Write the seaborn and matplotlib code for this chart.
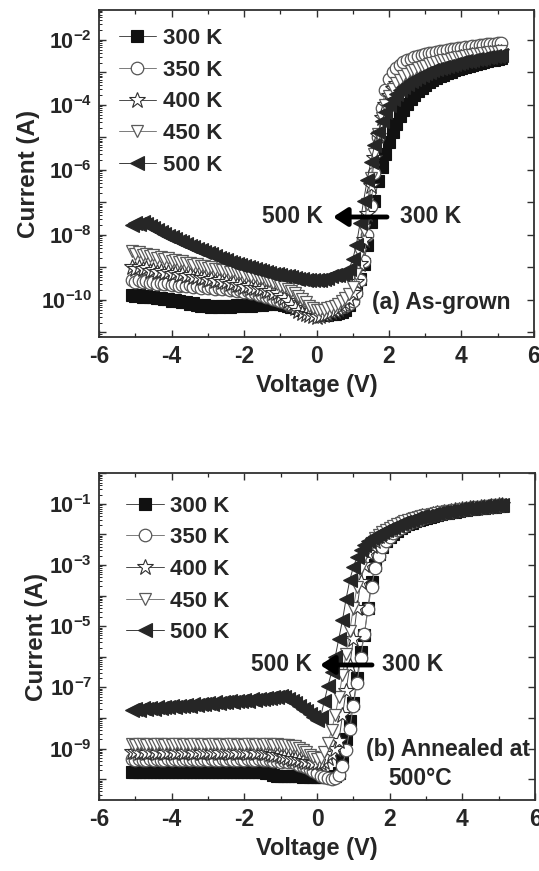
import numpy as np
import matplotlib
matplotlib.use("Agg")
import matplotlib.pyplot as plt
import seaborn as sns
from matplotlib.ticker import LogLocator, FuncFormatter, MultipleLocator, NullFormatter

# ---------------- data ----------------
temps = ["300 K", "350 K", "400 K", "450 K", "500 K"]

voltage = [-5.1, -5.0, -4.9, -4.8, -4.7, -4.6, -4.5, -4.4, -4.3, -4.2,
           -4.1, -4.0, -3.9, -3.8, -3.7, -3.6, -3.5, -3.4, -3.3, -3.2,
           -3.1, -3.0, -2.9, -2.8, -2.7, -2.6, -2.5, -2.4, -2.3, -2.2,
           -2.1, -2.0, -1.9, -1.8, -1.7, -1.6, -1.5, -1.4, -1.3, -1.2,
           -1.1, -1.0, -0.9, -0.8, -0.7, -0.6, -0.5, -0.4, -0.3, -0.2,
           -0.1, 0.0, 0.1, 0.2, 0.3, 0.4, 0.5, 0.6, 0.7, 0.8,
           0.9, 1.0, 1.1, 1.2, 1.3, 1.4, 1.5, 1.6, 1.7, 1.8,
           1.9, 2.0, 2.1, 2.2, 2.3, 2.4, 2.5, 2.6, 2.7, 2.8,
           2.9, 3.0, 3.1, 3.2, 3.3, 3.4, 3.5, 3.6, 3.7, 3.8,
           3.9, 4.0, 4.1, 4.2, 4.3, 4.4, 4.5, 4.6, 4.7, 4.8,
           4.9, 5.0, 5.1]

# (a) As-grown : log10(current / A)
a_300 = [-9.85, -9.88, -9.84, -9.90, -9.87, -9.92, -9.90, -9.95, -9.93, -9.98,
         -9.96, -10.02, -10.00, -10.05, -10.08, -10.06, -10.12, -10.10, -10.15, -10.18,
         -10.16, -10.20, -10.22, -10.19, -10.23, -10.20, -10.18, -10.22, -10.19, -10.17,
         -10.20, -10.16, -10.14, -10.18, -10.15, -10.12, -10.16, -10.13, -10.10, -10.14,
         -10.10, -10.12, -10.15, -10.18, -10.22, -10.20, -10.25, -10.30, -10.33, -10.36,
         -10.40, -10.42, -10.45, -10.44, -10.47, -10.45, -10.43, -10.40, -10.36, -10.30,
         -10.15, -9.95, -9.70, -9.35, -8.90, -8.30, -7.60, -6.95, -6.35, -5.90,
         -5.50, -5.15, -4.85, -4.58, -4.35, -4.15, -3.98, -3.83, -3.70, -3.58,
         -3.48, -3.39, -3.31, -3.24, -3.18, -3.12, -3.07, -3.02, -2.98, -2.94,
         -2.90, -2.86, -2.83, -2.80, -2.77, -2.74, -2.71, -2.68, -2.66, -2.63,
         -2.61, -2.58, -2.56]
a_350 = [-9.40, -9.45, -9.38, -9.46, -9.42, -9.48, -9.44, -9.50, -9.47, -9.52,
         -9.49, -9.53, -9.50, -9.56, -9.53, -9.58, -9.55, -9.60, -9.57, -9.62,
         -9.58, -9.63, -9.60, -9.66, -9.63, -9.68, -9.65, -9.70, -9.68, -9.73,
         -9.70, -9.75, -9.73, -9.78, -9.80, -9.84, -9.86, -9.90, -9.92, -9.97,
         -10.00, -10.05, -10.08, -10.12, -10.15, -10.20, -10.22, -10.26, -10.28, -10.31,
         -10.33, -10.35, -10.36, -10.35, -10.33, -10.30, -10.28, -10.25, -10.22, -10.18,
         -10.12, -10.02, -9.80, -9.40, -8.80, -8.00, -7.10, -6.10, -5.00, -4.10,
         -3.55, -3.20, -3.00, -2.86, -2.76, -2.69, -2.63, -2.58, -2.54, -2.50,
         -2.47, -2.44, -2.41, -2.39, -2.37, -2.35, -2.33, -2.31, -2.29, -2.27,
         -2.25, -2.24, -2.22, -2.21, -2.19, -2.18, -2.17, -2.15, -2.14, -2.13,
         -2.12, -2.11, -2.10]
a_400 = [-9.00, -9.05, -8.98, -9.06, -9.03, -9.10, -9.07, -9.13, -9.10, -9.16,
         -9.14, -9.20, -9.17, -9.23, -9.21, -9.27, -9.25, -9.31, -9.29, -9.34,
         -9.33, -9.38, -9.36, -9.42, -9.40, -9.46, -9.44, -9.50, -9.48, -9.54,
         -9.53, -9.59, -9.57, -9.63, -9.62, -9.68, -9.67, -9.73, -9.72, -9.78,
         -9.80, -9.88, -9.95, -10.05, -10.15, -10.25, -10.33, -10.40, -10.45, -10.48,
         -10.50, -10.52, -10.50, -10.46, -10.42, -10.38, -10.33, -10.28, -10.20, -10.10,
         -9.98, -9.80, -9.45, -8.90, -8.15, -7.35, -6.50, -5.65, -4.95, -4.40,
         -4.00, -3.72, -3.52, -3.37, -3.25, -3.15, -3.07, -3.00, -2.94, -2.89,
         -2.85, -2.81, -2.77, -2.74, -2.71, -2.68, -2.65, -2.63, -2.60, -2.58,
         -2.56, -2.54, -2.52, -2.50, -2.48, -2.46, -2.45, -2.43, -2.42, -2.40,
         -2.39, -2.38, -2.37]
a_450 = [-8.50, -8.58, -8.52, -8.62, -8.58, -8.66, -8.63, -8.70, -8.67, -8.74,
         -8.72, -8.79, -8.77, -8.83, -8.81, -8.88, -8.86, -8.92, -8.90, -8.96,
         -8.95, -9.01, -8.99, -9.05, -9.04, -9.09, -9.08, -9.13, -9.12, -9.18,
         -9.17, -9.23, -9.22, -9.28, -9.28, -9.34, -9.34, -9.40, -9.41, -9.47,
         -9.50, -9.56, -9.60, -9.66, -9.72, -9.80, -9.88, -9.98, -10.08, -10.18,
         -10.25, -10.30, -10.32, -10.30, -10.26, -10.22, -10.18, -10.12, -10.05, -9.95,
         -9.82, -9.60, -9.20, -8.60, -7.85, -7.05, -6.25, -5.50, -4.90, -4.40,
         -4.00, -3.72, -3.50, -3.34, -3.22, -3.12, -3.04, -2.97, -2.92, -2.87,
         -2.83, -2.79, -2.75, -2.72, -2.69, -2.66, -2.63, -2.61, -2.58, -2.56,
         -2.54, -2.52, -2.50, -2.48, -2.46, -2.44, -2.43, -2.41, -2.40, -2.38,
         -2.37, -2.36, -2.35]
a_500 = [-7.70, -7.62, -7.66, -7.60, -7.68, -7.72, -7.80, -7.86, -7.92, -7.98,
         -8.02, -8.08, -8.12, -8.18, -8.22, -8.28, -8.33, -8.38, -8.42, -8.48,
         -8.52, -8.57, -8.60, -8.66, -8.70, -8.74, -8.78, -8.82, -8.86, -8.89,
         -8.92, -8.96, -8.99, -9.02, -9.05, -9.08, -9.11, -9.14, -9.16, -9.19,
         -9.21, -9.24, -9.26, -9.28, -9.30, -9.33, -9.35, -9.37, -9.38, -9.39,
         -9.40, -9.40, -9.38, -9.35, -9.32, -9.28, -9.25, -9.22, -9.20, -9.18,
         -9.05, -8.75, -8.30, -7.65, -6.95, -6.30, -5.75, -5.25, -4.85, -4.50,
         -4.22, -4.00, -3.82, -3.67, -3.55, -3.44, -3.35, -3.27, -3.20, -3.14,
         -3.08, -3.03, -2.98, -2.94, -2.90, -2.86, -2.83, -2.80, -2.77, -2.74,
         -2.71, -2.69, -2.66, -2.64, -2.62, -2.60, -2.58, -2.56, -2.54, -2.52,
         -2.50, -2.49, -2.47]

# (b) Annealed at 500 C : log10(current / A)
b_300 = [-9.75, -9.76, -9.75, -9.77, -9.76, -9.75, -9.76, -9.77, -9.76, -9.75,
         -9.76, -9.77, -9.76, -9.75, -9.76, -9.77, -9.76, -9.75, -9.76, -9.77,
         -9.76, -9.75, -9.76, -9.77, -9.76, -9.75, -9.76, -9.77, -9.76, -9.75,
         -9.76, -9.77, -9.76, -9.75, -9.76, -9.77, -9.76, -9.78, -9.80, -9.86,
         -9.88, -9.89, -9.88, -9.89, -9.90, -9.89, -9.90, -9.91, -9.90, -9.91,
         -9.92, -9.93, -9.92, -9.93, -9.94, -9.93, -9.90, -9.80, -9.30, -8.70,
         -8.10, -7.50, -6.70, -5.85, -5.30, -4.40, -3.55, -3.00, -2.65, -2.40,
         -2.22, -2.08, -1.97, -1.88, -1.80, -1.73, -1.67, -1.62, -1.57, -1.53,
         -1.49, -1.45, -1.42, -1.39, -1.36, -1.34, -1.31, -1.29, -1.27, -1.25,
         -1.23, -1.21, -1.20, -1.18, -1.17, -1.15, -1.14, -1.13, -1.11, -1.10,
         -1.09, -1.08, -1.07]
b_350 = [-9.35, -9.37, -9.34, -9.36, -9.38, -9.35, -9.37, -9.34, -9.36, -9.38,
         -9.35, -9.37, -9.34, -9.36, -9.38, -9.35, -9.37, -9.34, -9.36, -9.38,
         -9.35, -9.37, -9.34, -9.36, -9.38, -9.35, -9.37, -9.34, -9.36, -9.38,
         -9.35, -9.37, -9.34, -9.36, -9.38, -9.35, -9.37, -9.36, -9.38, -9.40,
         -9.40, -9.42, -9.41, -9.43, -9.45, -9.48, -9.52, -9.56, -9.60, -9.66,
         -9.72, -9.80, -9.88, -9.94, -9.97, -9.98, -9.95, -9.85, -9.55, -9.05,
         -8.35, -7.60, -6.85, -6.05, -5.25, -4.45, -3.70, -3.10, -2.70, -2.42,
         -2.22, -2.07, -1.95, -1.86, -1.78, -1.71, -1.65, -1.60, -1.55, -1.51,
         -1.47, -1.43, -1.40, -1.37, -1.34, -1.32, -1.29, -1.27, -1.25, -1.23,
         -1.21, -1.19, -1.18, -1.16, -1.15, -1.13, -1.12, -1.11, -1.09, -1.08,
         -1.07, -1.06, -1.05]
b_400 = [-9.12, -9.10, -9.13, -9.11, -9.14, -9.12, -9.10, -9.13, -9.11, -9.14,
         -9.12, -9.10, -9.13, -9.11, -9.14, -9.12, -9.10, -9.13, -9.11, -9.14,
         -9.12, -9.10, -9.13, -9.11, -9.14, -9.12, -9.10, -9.13, -9.11, -9.14,
         -9.12, -9.10, -9.13, -9.11, -9.14, -9.12, -9.13, -9.15, -9.17, -9.20,
         -9.22, -9.25, -9.28, -9.30, -9.33, -9.35, -9.38, -9.40, -9.42, -9.44,
         -9.46, -9.48, -9.47, -9.42, -9.32, -9.18, -9.00, -8.75, -7.90, -7.10,
         -6.30, -5.40, -4.40, -3.55, -3.00, -2.62, -2.38, -2.20, -2.06, -1.95,
         -1.86, -1.79, -1.73, -1.67, -1.62, -1.58, -1.54, -1.50, -1.47, -1.44,
         -1.41, -1.38, -1.36, -1.33, -1.31, -1.29, -1.27, -1.25, -1.23, -1.21,
         -1.20, -1.18, -1.17, -1.15, -1.14, -1.12, -1.11, -1.10, -1.09, -1.07,
         -1.06, -1.05, -1.04]
b_450 = [-8.85, -8.87, -8.84, -8.86, -8.88, -8.85, -8.87, -8.84, -8.86, -8.88,
         -8.85, -8.87, -8.84, -8.86, -8.88, -8.85, -8.87, -8.84, -8.86, -8.88,
         -8.85, -8.87, -8.84, -8.86, -8.88, -8.85, -8.87, -8.84, -8.86, -8.88,
         -8.85, -8.87, -8.84, -8.86, -8.88, -8.85, -8.87, -8.84, -8.86, -8.88,
         -8.86, -8.88, -8.87, -8.89, -8.90, -8.92, -8.98, -9.05, -9.12, -9.20,
         -9.28, -9.35, -9.30, -9.10, -8.80, -8.40, -7.90, -7.30, -6.60, -5.90,
         -5.15, -4.40, -3.70, -3.10, -2.70, -2.45, -2.27, -2.13, -2.02, -1.93,
         -1.85, -1.78, -1.72, -1.66, -1.61, -1.57, -1.53, -1.49, -1.46, -1.43,
         -1.40, -1.37, -1.35, -1.32, -1.30, -1.28, -1.26, -1.24, -1.22, -1.20,
         -1.19, -1.17, -1.16, -1.14, -1.13, -1.11, -1.10, -1.09, -1.08, -1.06,
         -1.05, -1.04, -1.03]
b_500 = [-7.75, -7.70, -7.73, -7.68, -7.71, -7.66, -7.69, -7.64, -7.67, -7.63,
         -7.65, -7.61, -7.63, -7.59, -7.61, -7.57, -7.59, -7.55, -7.57, -7.53,
         -7.55, -7.51, -7.53, -7.49, -7.51, -7.47, -7.49, -7.45, -7.47, -7.43,
         -7.45, -7.41, -7.43, -7.39, -7.41, -7.37, -7.38, -7.34, -7.35, -7.31,
         -7.30, -7.28, -7.32, -7.38, -7.45, -7.52, -7.60, -7.70, -7.78, -7.86,
         -7.95, -8.05, -7.95, -7.45, -6.95, -6.50, -6.00, -5.40, -4.80, -4.10,
         -3.50, -3.05, -2.75, -2.52, -2.35, -2.22, -2.12, -2.04, -1.97, -1.91,
         -1.85, -1.80, -1.75, -1.69, -1.64, -1.59, -1.55, -1.51, -1.47, -1.44,
         -1.41, -1.38, -1.35, -1.33, -1.30, -1.28, -1.26, -1.24, -1.22, -1.20,
         -1.18, -1.17, -1.15, -1.14, -1.12, -1.11, -1.10, -1.08, -1.07, -1.06,
         -1.05, -1.04, -1.02]

panel_a = [a_300, a_350, a_400, a_450, a_500]
panel_b = [b_300, b_350, b_400, b_450, b_500]

x_ticks = [-6, -4, -2, 0, 2, 4, 6]
a_labeled_decades = [-10, -8, -6, -4, -2]
b_labeled_decades = [-9, -7, -5, -3, -1]

# ---------------- style ----------------
sns.set_theme(style="ticks")
plt.rcParams.update({
    "font.family": ["Liberation Sans", "DejaVu Sans"],
    "font.weight": "bold",
    "axes.labelweight": "bold",
    "axes.unicode_minus": False,
    "mathtext.fontset": "custom",
    "mathtext.rm": "Liberation Sans:bold",
    "mathtext.it": "Liberation Sans:bold",
    "mathtext.bf": "Liberation Sans:bold",
    "axes.edgecolor": "#303030",
    "axes.linewidth": 1.3,
})

styles = [
    dict(marker="s", color="#4a4a4a", mfc="#111111", mec="#111111", ms=8, mew=0.8),
    dict(marker="o", color="#7a7a7a", mfc="white", mec="#555555", ms=9, mew=0.9),
    dict(marker="*", color="#4a4a4a", mfc="white", mec="#2e2e2e", ms=12, mew=0.8),
    dict(marker="v", color="#7a7a7a", mfc="white", mec="#5a5a5a", ms=9, mew=0.9),
    dict(marker="<", color="#3a3a3a", mfc="#262626", mec="#262626", ms=9.5, mew=0.8),
]

fig = plt.figure(figsize=(5.39, 8.71), dpi=100)
ax_a = fig.add_axes([0.1837, 0.6131, 0.8070, 0.3754])
ax_b = fig.add_axes([0.1837, 0.0815, 0.8090, 0.3754])


def draw_panel(ax, series, ylim, labeled, legend_anchor):
    for name, vals, st in zip(temps, series, styles):
        sns.lineplot(x=voltage, y=10.0 ** np.array(vals), ax=ax, label=name,
                     estimator=None, sort=False, linewidth=0.7, **st)
    ax.set_yscale("log")
    ax.set_xlim(-6, 6)
    ax.set_ylim(*ylim)
    ax.set_xticks(x_ticks)
    ax.xaxis.set_minor_locator(MultipleLocator(1))
    ax.yaxis.set_major_locator(LogLocator(base=10, numticks=30))
    ax.yaxis.set_minor_locator(LogLocator(base=10, subs=np.arange(2, 10), numticks=30))
    ax.yaxis.set_minor_formatter(NullFormatter())

    def fmt(v, pos):
        e = int(round(np.log10(v)))
        return r"$10^{%d}$" % e if e in labeled else ""
    ax.yaxis.set_major_formatter(FuncFormatter(fmt))
    ax.tick_params(axis="both", which="major", direction="in", top=True, right=True,
                   length=5, width=1.0, color="#303030")
    ax.tick_params(axis="x", which="minor", direction="in", top=True, length=3, width=0.9)
    ax.tick_params(axis="y", which="minor", direction="in", right=False, length=2.5, width=0.7)
    ax.tick_params(axis="x", which="major", labelsize=16.5, pad=6)
    ax.tick_params(axis="y", which="major", labelsize=15.5, pad=5)
    ax.set_xlabel("Voltage (V)", fontsize=17, fontweight="bold", labelpad=4)
    ax.set_ylabel("Current (A)", fontsize=17.5, fontweight="bold", labelpad=1)
    for lab in ax.get_xticklabels():
        lab.set_fontweight("bold")
    leg = ax.legend(loc="upper left", bbox_to_anchor=legend_anchor, frameon=False,
                    fontsize=16, handlelength=1.7, handletextpad=0.3,
                    labelspacing=0.48, borderpad=0, borderaxespad=0)
    for t in leg.get_texts():
        t.set_fontweight("bold")


draw_panel(ax_a, panel_a, (7.2e-12, 8.3e-2), a_labeled_decades, (0.045, 0.945))
draw_panel(ax_b, panel_b, (2.1e-11, 1.02), b_labeled_decades, (0.062, 0.931))

tkw = dict(fontsize=16.5, fontweight="bold", va="center")
arrow = dict(arrowstyle="-|>,head_length=0.7,head_width=0.45", lw=3.5, color="black",
             shrinkA=0, shrinkB=0)

# panel (a) annotations
ax_a.text(0.515, 0.367, "500 K", transform=ax_a.transAxes, ha="right", **tkw)
ax_a.annotate("", xy=(0.538, 0.367), xytext=(0.662, 0.367),
              xycoords="axes fraction", textcoords="axes fraction", arrowprops=arrow)
ax_a.text(0.692, 0.367, "300 K", transform=ax_a.transAxes, ha="left", **tkw)
ax_a.text(0.945, 0.104, "(a) As-grown", transform=ax_a.transAxes, ha="right", **tkw)

# panel (b) annotations
ax_b.text(0.489, 0.413, "500 K", transform=ax_b.transAxes, ha="right", **tkw)
ax_b.annotate("", xy=(0.507, 0.413), xytext=(0.626, 0.413),
              xycoords="axes fraction", textcoords="axes fraction", arrowprops=arrow)
ax_b.text(0.649, 0.413, "300 K", transform=ax_b.transAxes, ha="left", **tkw)
ax_b.text(0.989, 0.153, "(b) Annealed at", transform=ax_b.transAxes, ha="right", **tkw)
ax_b.text(0.736, 0.067, "500\u00b0C", transform=ax_b.transAxes, ha="center", **tkw)

fig.savefig("out.png", dpi=100)
